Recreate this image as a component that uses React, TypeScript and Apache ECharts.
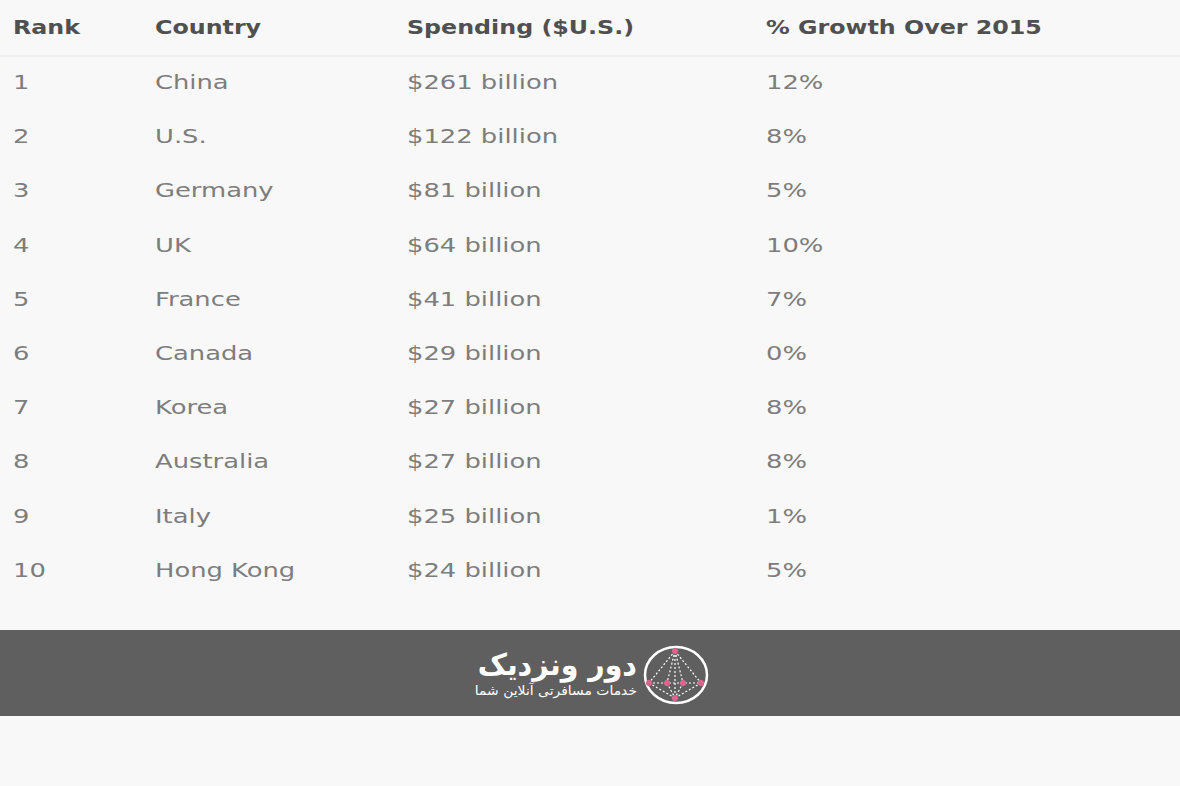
import React, { useEffect, useRef } from "react";
import * as echarts from "echarts";

const headers = ["Rank", "Country", "Spending ($U.S.)", "% Growth Over 2015"];
const ranks = [1, 2, 3, 4, 5, 6, 7, 8, 9, 10];
const countries = ["China", "U.S.", "Germany", "UK", "France", "Canada", "Korea", "Australia", "Italy", "Hong Kong"];
const spendingBillions = [261, 122, 81, 64, 41, 29, 27, 27, 25, 24];
const growthPct = [12, 8, 5, 10, 7, 0, 8, 8, 1, 5];
const logoTitle = "دور ونزدیک";
const logoSubtitle = "خدمات مسافرتی آنلاین شما";

const colX = [13, 155, 407, 766];
const headerY = 27;
const rowY0 = 82;
const rowStep = 54.2;
const SX_HEAD = 1.25;
const SX_BODY = 1.29;

export default function App() {
  const ref = useRef<HTMLDivElement>(null);
  useEffect(() => {
    document.body.style.margin = "0";
    const chart = echarts.init(ref.current!, null, { renderer: "svg" });
    const els: any[] = [];
    els.push({ type: "rect", shape: { x: 0, y: 0, width: 1180, height: 786 }, style: { fill: "#f8f8f8" }, silent: true });
    els.push({ type: "line", shape: { x1: 0, y1: 56, x2: 1180, y2: 56 }, style: { stroke: "#e4e4e4", lineWidth: 1 } });
    headers.forEach((h, i) => {
      els.push({
        type: "text", x: colX[i], y: headerY, scaleX: SX_HEAD,
        style: { text: h, fill: "#505050", font: "bold 19px 'DejaVu Sans'", textAlign: "left", textVerticalAlign: "middle" },
      });
    });
    ranks.forEach((r, i) => {
      const y = rowY0 + i * rowStep;
      const cells = [String(r), countries[i], "$" + spendingBillions[i] + " billion", growthPct[i] + "%"];
      cells.forEach((c, j) => {
        els.push({
          type: "text", x: colX[j], y, scaleX: SX_BODY,
          style: { text: c, fill: "#7d7d7d", font: "20px 'DejaVu Sans'", textAlign: "left", textVerticalAlign: "middle" },
        });
      });
    });
    // footer band
    els.push({ type: "rect", shape: { x: 0, y: 630, width: 1180, height: 86 }, style: { fill: "#5f5f5f" } });
    els.push({
      type: "text", x: 637, y: 665, scaleX: 0.95,
      style: { text: logoTitle, fill: "#ffffff", font: "bold 30px 'DejaVu Sans'", textAlign: "right", textVerticalAlign: "middle" },
    });
    els.push({
      type: "text", x: 637, y: 691, scaleX: 1.07,
      style: { text: logoSubtitle, fill: "#ffffff", font: "13px 'DejaVu Sans'", textAlign: "right", textVerticalAlign: "middle" },
    });
    // logo mark
    els.push({ type: "ellipse", shape: { cx: 676, cy: 675, rx: 31, ry: 28 }, style: { fill: "none", stroke: "#ffffff", lineWidth: 2.5 } });
    const top = [675, 651];
    const bottom = [675, 698];
    const mids = [[649, 683], [667, 683], [683, 683], [701, 683]];
    const dash = { stroke: "#ffffff", lineWidth: 1.2, lineDash: [2, 2] };
    mids.forEach((m) => {
      els.push({ type: "line", shape: { x1: top[0], y1: top[1], x2: m[0], y2: m[1] }, style: dash });
      els.push({ type: "line", shape: { x1: m[0], y1: m[1], x2: bottom[0], y2: bottom[1] }, style: dash });
    });
    els.push({ type: "line", shape: { x1: top[0], y1: top[1], x2: bottom[0], y2: bottom[1] }, style: dash });
    els.push({ type: "line", shape: { x1: 649, y1: 683, x2: 701, y2: 683 }, style: dash });
    [top, bottom, ...mids].forEach((p) => {
      els.push({ type: "circle", shape: { cx: p[0], cy: p[1], r: 3.2 }, style: { fill: "#d9668e" } });
    });
    chart.setOption({ animation: false, backgroundColor: "#f8f8f8", graphic: { elements: els } });
    return () => chart.dispose();
  }, []);
  return <div ref={ref} style={{ width: 1180, height: 786 }} />;
}
